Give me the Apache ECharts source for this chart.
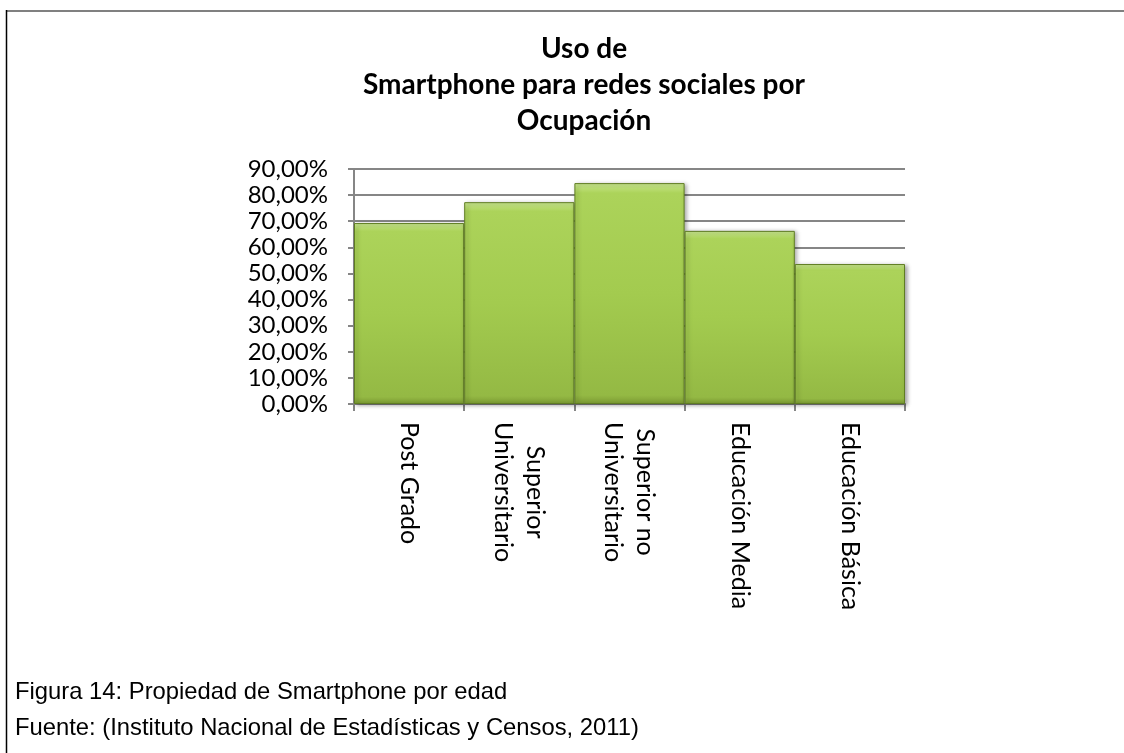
<!DOCTYPE html>
<html>
<head>
<meta charset="utf-8">
<script src="https://cdn.jsdelivr.net/npm/echarts@6/dist/echarts.min.js"></script>
<style>
html,body{margin:0;padding:0;background:#fff;}
#chart{width:1124px;height:753px;}
</style>
</head>
<body>
<div id="chart"></div>
<script>
const titleLines = ['Uso de', 'Smartphone para redes sociales por', 'Ocupación'];
const categories = ['Post Grado', 'Superior\nUniversitario', 'Superior no\nUniversitario', 'Educación Media', 'Educación Básica'];
const values = [69.3, 77.3, 84.6, 66.3, 53.6];
const yTickLabels = ['0,00%', '10,00%', '20,00%', '30,00%', '40,00%', '50,00%', '60,00%', '70,00%', '80,00%', '90,00%'];
const footerLines = ['Figura 14: Propiedad de Smartphone por edad', 'Fuente: (Instituto Nacional de Estadísticas y Censos, 2011)'];

const chart = echarts.init(document.getElementById('chart'), null, {renderer: 'canvas'});
const option = {
  backgroundColor: '#ffffff',
  animation: false,
  title: {
    text: titleLines.join('\n'),
    left: 579,
    top: 26,
    textAlign: 'center',
    textStyle: {fontFamily: 'Lato', fontWeight: 'bold', fontSize: 28, lineHeight: 36, color: '#000'}
  },
  grid: {left: 354, right: 219, top: 169, bottom: 349, containLabel: false},
  xAxis: {
    type: 'category',
    data: categories,
    boundaryGap: true,
    axisLine: {show: true, lineStyle: {color: '#868686', width: 2}},
    axisTick: {show: true, length: 7, lineStyle: {color: '#868686', width: 2}},
    axisLabel: {
      rotate: -90,
      margin: 18,
      interval: 0,
      formatter: function (v) { return v.split('\n').map(s => '{c|' + s + '}').join('\n'); },
      rich: {c: {fontFamily: 'Lato', fontSize: 25, lineHeight: 32, color: '#000', align: 'center'}}
    }
  },
  yAxis: {
    type: 'value',
    min: 0,
    max: 90,
    interval: 10,
    axisLine: {show: true, lineStyle: {color: '#868686', width: 2}},
    axisTick: {show: true, length: 6, lineStyle: {color: '#868686', width: 2}},
    splitLine: {show: true, lineStyle: {color: '#868686', width: 2}},
    axisLabel: {
      margin: 26,
      fontFamily: 'Lato',
      fontSize: 24,
      color: '#000',
      formatter: function (v) { return yTickLabels[Math.round(v / 10)]; }
    }
  },
  series: [{
    type: 'bar',
    data: values,
    barCategoryGap: '0%',
    itemStyle: {
      color: new echarts.graphic.LinearGradient(0, 0, 0, 1, [
        {offset: 0, color: '#cbe991'},
        {offset: 0.045, color: '#acd35a'},
        {offset: 0.5, color: '#a3cb4f'},
        {offset: 0.96, color: '#94b944'},
        {offset: 1, color: '#7c9b33'}
      ]),
      borderColor: '#5f7d22',
      borderWidth: 1,
      shadowColor: 'rgba(0,0,0,0.35)',
      shadowBlur: 4,
      shadowOffsetX: 2,
      shadowOffsetY: 1
    }
  }],
  graphic: [
    {type: 'line', shape: {x1: 6, y1: 11, x2: 1124, y2: 11}, style: {stroke: '#808080', lineWidth: 2}, silent: true},
    {type: 'line', shape: {x1: 6.5, y1: 10, x2: 6.5, y2: 753}, style: {stroke: '#000000', lineWidth: 1.5}, silent: true},
    {type: 'text', left: 15, top: 680, style: {text: footerLines[0], fontFamily: 'Liberation Sans', fontSize: 23.8, fill: '#000'}, silent: true},
    {type: 'text', left: 15, top: 716, style: {text: footerLines[1], fontFamily: 'Liberation Sans', fontSize: 23.8, fill: '#000'}, silent: true}
  ]
};
chart.setOption(option);
</script>
</body>
</html>
